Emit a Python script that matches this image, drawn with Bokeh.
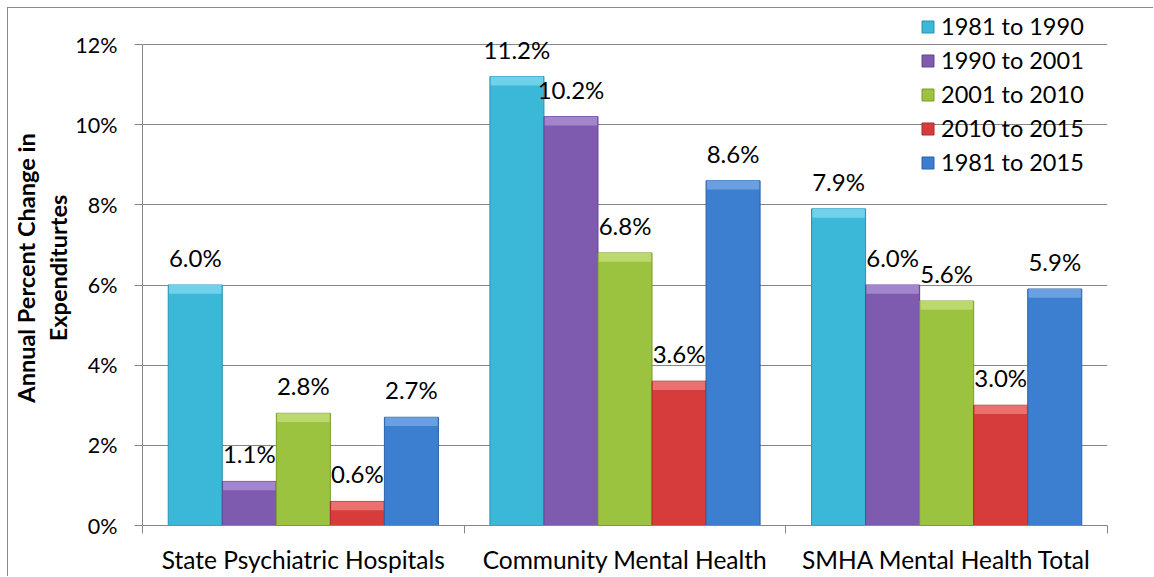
from bokeh.plotting import figure
from bokeh.models import (ColumnDataSource, FixedTicker, PrintfTickFormatter, Range1d,
                          LabelSet, Legend, LegendItem)
from bokeh.core.properties import value
from bokeh.embed import file_html
from bokeh.resources import INLINE

# ---- data ----
categories = ["State Psychiatric Hospitals", "Community Mental Health", "SMHA Mental Health Total"]
periods = ["1981 to 1990", "1990 to 2001", "2001 to 2010", "2010 to 2015", "1981 to 2015"]
v_1981_1990 = [6.0, 11.2, 7.9]
v_1990_2001 = [1.1, 10.2, 6.0]
v_2001_2010 = [2.8, 6.8, 5.6]
v_2010_2015 = [0.6, 3.6, 3.0]
v_1981_2015 = [2.7, 8.6, 5.9]
series = [v_1981_1990, v_1990_2001, v_2001_2010, v_2010_2015, v_1981_2015]
y_ticks = [0, 2, 4, 6, 8, 10, 12]

# ---- style ----
body_colors = ["#3BB8D7", "#7E5BAF", "#9CC33F", "#D63C3C", "#3C7ECF"]
top_colors = ["#6FD2EA", "#A285CD", "#BBD96C", "#EC7070", "#6A9FE2"]
edge_colors = ["#2A92AE", "#624491", "#7A9C2C", "#A82A2A", "#2C62A6"]
FONT = "Lato"
GRID = "#868686"
bw = 0.168
bevel = 0.22

p = figure(width=1146, height=569, output_backend="svg", toolbar_location=None,
           x_range=Range1d(0, 3), y_range=Range1d(0, 12 * 515 / 481),
           min_border_left=134, min_border_right=47, min_border_top=2, min_border_bottom=52)
p.styles = {"margin-left": "7px", "margin-top": "7px",
            "border-top": "1px solid #8a8a8a", "border-left": "1px solid #8a8a8a"}
p.outline_line_color = None
p.background_fill_color = "white"

items = []
for j, vals in enumerate(series):
    xs = [i + 0.5 + (j - 2) * bw for i in range(len(categories))]
    src = ColumnDataSource(dict(
        x=xs, top=vals,
        band=[max(v - bevel, 0) for v in vals],
        label=[f"{v:.1f}%" for v in vals]))
    r = p.vbar(x="x", top="top", bottom=0, width=bw, fill_color=body_colors[j],
               line_color=edge_colors[j], line_width=1, source=src)
    p.vbar(x="x", top="top", bottom="band", width=bw * 0.97, fill_color=top_colors[j],
           line_color=None, source=src)
    p.add_layout(LabelSet(x="x", y="top", text="label", y_offset=18, source=src,
                          text_align="center", text_baseline="alphabetic",
                          text_font=value(FONT), text_font_size="24px", text_color="black"))
    items.append(LegendItem(label=periods[j], renderers=[r]))

legend = Legend(items=items, location=(778, 349), background_fill_alpha=0,
                border_line_color=None, padding=0, margin=0, spacing=6,
                glyph_width=15, glyph_height=15, label_standoff=6,
                label_text_font=FONT, label_text_font_size="23.5px", label_text_color="black")
p.add_layout(legend)

# x axis
p.xaxis.ticker = FixedTicker(ticks=[i + 0.5 for i in range(len(categories))],
                             minor_ticks=list(range(len(categories) + 1)))
p.xaxis.major_label_overrides = {i + 0.5: c for i, c in enumerate(categories)}
p.xaxis.major_tick_line_color = None
p.xaxis.major_tick_out = 0
p.xaxis.major_tick_in = 0
p.xaxis.minor_tick_out = 8
p.xaxis.minor_tick_in = 0
p.xaxis.minor_tick_line_color = GRID
p.xaxis.axis_line_color = GRID
p.xaxis.major_label_standoff = 11
p.xaxis.major_label_text_font = FONT
p.xaxis.major_label_text_font_size = "24.5px"
p.xaxis.major_label_text_color = "black"
p.xgrid.visible = False

# y axis
p.yaxis.ticker = FixedTicker(ticks=y_ticks)
p.yaxis.formatter = PrintfTickFormatter(format="%d%%")
p.yaxis.bounds = (0, 12)
p.yaxis.major_tick_out = 8
p.yaxis.major_tick_in = 0
p.yaxis.minor_tick_line_color = None
p.yaxis.major_tick_line_color = GRID
p.yaxis.axis_line_color = GRID
p.yaxis.major_label_standoff = 17
p.yaxis.major_label_text_font = FONT
p.yaxis.major_label_text_font_size = "21.5px"
p.yaxis.major_label_text_color = "black"
p.yaxis.axis_label = "Annual Percent Change in\nExpenditurtes"
p.yaxis.axis_label_text_font = FONT
p.yaxis.axis_label_text_font_style = "bold"
p.yaxis.axis_label_text_font_size = "23.5px"
p.yaxis.axis_label_text_line_height = 1.15
p.yaxis.axis_label_text_color = "black"
p.yaxis.axis_label_standoff = 0
p.ygrid.ticker = FixedTicker(ticks=y_ticks)
p.ygrid.grid_line_color = GRID

open("out.html", "w").write(file_html(p, INLINE))
